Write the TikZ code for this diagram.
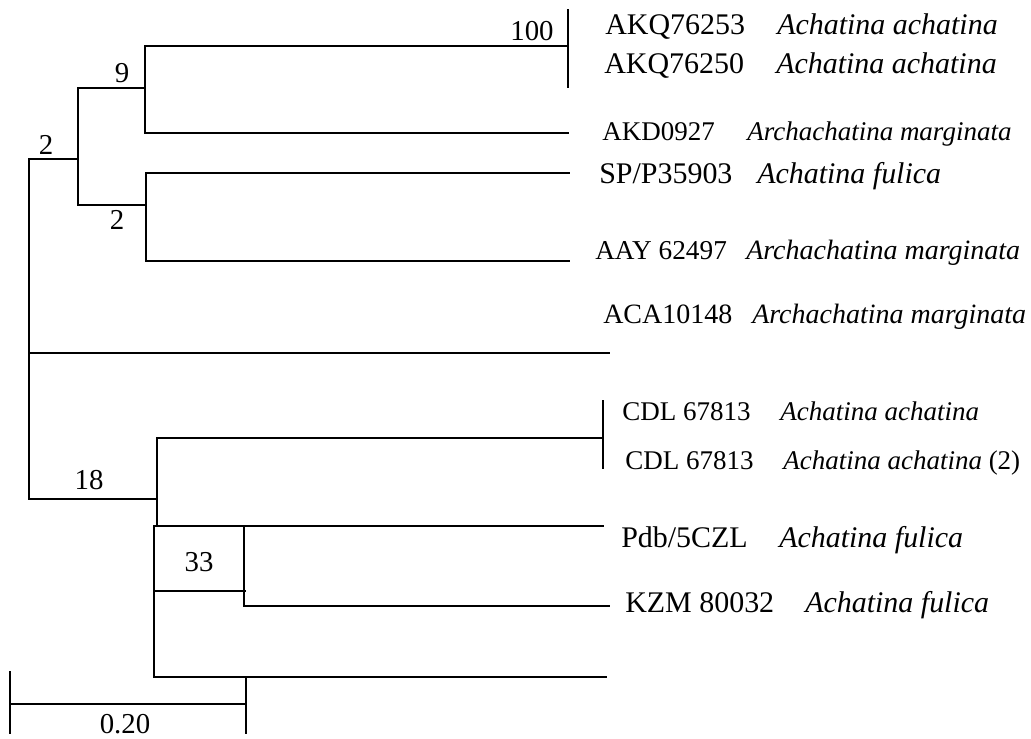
\documentclass[tikz,border=0pt]{standalone}
\usepackage{fontspec}
\setmainfont{Liberation Serif}
\tikzset{
  branch/.style={line width=1.4pt, line cap=rect},
  fine/.style={line width=0.8pt},
  boot/.style={inner sep=0pt, font=\fontsize{20.5}{24}\selectfont},
  taxon/.style={anchor=base west, inner sep=0pt, font=\fontsize{21.3}{24}\selectfont},
  small/.style={font=\fontsize{19.2}{22}\selectfont},
  narrow/.style={font=\fontsize{19.4}{22}\selectfont},
  mid/.style={font=\fontsize{19.9}{22}\selectfont},
}

\begin{document}
\begin{tikzpicture}[x=0.025cm, y=-0.025cm]
  \useasboundingbox (0,0) rectangle (1031,738);

  % root and the long lone branch
  \draw[branch] (29,159) -- (29,499);
  \draw[branch] (29,159) -- (78,159);
  \draw[branch] (29,499) -- (157,499);
  \draw[branch] (29,353) -- (609,353);

  % upper clade
  \draw[branch] (78,88) -- (78,205);
  \draw[branch] (78,88) -- (145,88);
  \draw[branch] (145,46) -- (145,133);
  \draw[branch] (145,46) -- (568,46);
  \draw[branch] (145,133) -- (568,133);
  \draw[branch] (568,10) -- (568,87);
  \draw[branch] (78,205) -- (146,205);
  \draw[branch] (146,173) -- (146,261);
  \draw[branch] (146,173) -- (569,173);
  \draw[branch] (146,261) -- (569,261);

  % lower clade
  \draw[branch] (157,438) -- (157,526);
  \draw[branch] (157,438) -- (603,438);
  \draw[fine] (603,400) -- (603,469);
  \draw[branch] (154,526) -- (154,677);
  \draw[branch] (154,526) -- (603,526);
  \draw[branch] (154,591) -- (245,591);
  \draw[branch] (244,528) -- (244,606);
  \draw[branch] (244,606) -- (609,606);
  \draw[branch] (154,677) -- (606,677);

  % scale bar
  \draw[branch] (10,672) -- (10,733);
  \draw[branch] (10,704) -- (246,704);
  \draw[branch] (246,677) -- (246,733);
  \node[boot] (scale) at (125,724) {0.20};

  % bootstrap values
  \node[boot] (bsroot) at (46,145) {2};
  \node[boot] (bsnine) at (122,73) {9};
  \node[boot] (bshund) at (532,31) {100};
  \node[boot] (bstwo) at (117,220) {2};
  \node[boot] (bseight) at (89,480) {18};
  \node[boot] (bsthree) at (199,562) {33};

  % taxa
  \node[taxon] (akqa) at (605,34) {AKQ76253};
  \node[taxon] (akqasp) at (777,34) {\itshape Achatina achatina};
  \node[taxon] (akqb) at (604,73) {AKQ76250};
  \node[taxon] (akqbsp) at (776,73) {\itshape Achatina achatina};
  \node[taxon, small] (akd) at (602,140) {AKD0927};
  \node[taxon, small] (akdsp) at (747,140) {\itshape Archachatina marginata};
  \node[taxon] (sp) at (599,183) {SP/P35903};
  \node[taxon] (spsp) at (757,183) {\itshape Achatina fulica};
  \node[taxon, narrow] (aay) at (595,259) {AAY 62497};
  \node[taxon, mid] (aaysp) at (746,259) {\itshape Archachatina marginata};
  \node[taxon, mid] (aca) at (603,323) {ACA10148};
  \node[taxon, mid] (acasp) at (752,323) {\itshape Archachatina marginata};
  \node[taxon, small] (cdla) at (622,420) {CDL 67813};
  \node[taxon, small] (cdlasp) at (780,420) {\itshape Achatina achatina};
  \node[taxon, small] (cdlb) at (625,469) {CDL 67813};
  \node[taxon, small] (cdlbsp) at (783,469) {\textit{Achatina achatina} (2)};
  \node[taxon] (pdb) at (621,547) {Pdb/5CZL};
  \node[taxon] (pdbsp) at (779,547) {\itshape Achatina fulica};
  \node[taxon] (kzm) at (625,612) {KZM 80032};
  \node[taxon] (kzmsp) at (805,612) {\itshape Achatina fulica};
\end{tikzpicture}
\end{document}
